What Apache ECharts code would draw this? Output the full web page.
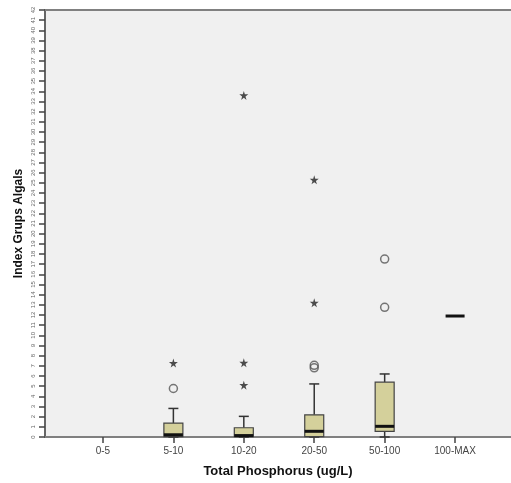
<!DOCTYPE html>
<html>
<head>
<meta charset="utf-8">
<script src="https://cdn.jsdelivr.net/npm/echarts@6/dist/echarts.min.js"></script>
<style>
html,body{margin:0;padding:0;background:#fff;}
#chart{width:511px;height:483px;}
</style>
</head>
<body>
<div id="chart"></div>
<script>
// ---- data ----
const categories = ['0-5', '5-10', '10-20', '20-50', '50-100', '100-MAX'];
const boxMin    = [null, 0,    0,    0,    0,    11.9];
const boxQ1     = [null, 0.03, 0.03, 0.03, 0.55, 11.9];
const boxMedian = [null, 0.22, 0.14, 0.56, 1.05, 11.9];
const boxQ3     = [null, 1.37, 0.91, 2.18, 5.39, 11.9];
const boxMax    = [null, 2.81, 2.03, 5.22, 6.2,  11.9];
// outliers: [category index, value]
const circleOutliers  = [[1, 4.77], [3, 7.05], [3, 6.8], [4, 17.5], [4, 12.76]];
const extremeOutliers = [[1, 7.27], [2, 7.3], [2, 5.1], [2, 33.6], [3, 25.3], [3, 13.2]];
const yTicks = { min: 0, max: 42, interval: 1 };

const boxData = [];
categories.forEach((c, i) => {
  if (boxMin[i] !== null) boxData.push([i, boxMin[i], boxQ1[i], boxMedian[i], boxQ3[i], boxMax[i]]);
});

const starPath = 'path://M50,0 L61,35 L98,35 L68,57 L79,91 L50,70 L21,91 L32,57 L2,35 L39,35 Z';
const FONT = '"Liberation Sans", Arial, sans-serif';

const chart = echarts.init(document.getElementById('chart'), null, { renderer: 'canvas' });
chart.setOption({
  backgroundColor: '#ffffff',
  animation: false,
  grid: {
    left: 45, right: 0, top: 10, bottom: 45,
    show: true, backgroundColor: '#f0f0f0', borderWidth: 0
  },
  xAxis: [{
    type: 'value',
    min: -0.823, max: 5.794,
    name: 'Total Phosphorus (ug/L)',
    nameLocation: 'middle',
    nameGap: 28,
    nameTextStyle: { fontFamily: FONT, fontSize: 13, fontWeight: 'bold', color: '#111' },
    axisLine: { show: true, onZero: false, lineStyle: { color: '#808080', width: 2 } },
    axisTick: { show: true, length: 6, customValues: [0, 1, 2, 3, 4, 5], lineStyle: { color: '#444', width: 1.5 } },
    axisLabel: {
      customValues: [0, 1, 2, 3, 4, 5],
      formatter: v => categories[Math.round(v)],
      margin: 9, fontFamily: FONT, fontSize: 10, color: '#444'
    },
    splitLine: { show: false }
  }, {
    type: 'value', position: 'top', min: 0, max: 1,
    axisLine: { show: true, onZero: false, lineStyle: { color: '#808080', width: 2 } },
    axisTick: { show: false }, axisLabel: { show: false }, splitLine: { show: false }
  }],
  yAxis: {
    type: 'value',
    min: yTicks.min, max: yTicks.max, interval: yTicks.interval,
    name: 'Index Grups Algals',
    nameLocation: 'middle',
    nameGap: 20,
    nameMoveOverlap: false,
    nameTextStyle: { fontFamily: FONT, fontSize: 12, fontWeight: 'bold', color: '#111' },
    axisLine: { show: true, onZero: false, lineStyle: { color: '#666', width: 2 } },
    axisTick: { show: true, length: 6, lineStyle: { color: '#444', width: 1.5 } },
    axisLabel: { rotate: 90, fontFamily: FONT, fontSize: 6, color: '#666', margin: 9 },
    splitLine: { show: false }
  },
  series: [{
    type: 'custom',
    clip: false,
    encode: { x: 0, y: [1, 2, 3, 4, 5] },
    data: boxData,
    renderItem: function (params, api) {
      const i = api.value(0);
      const vMin = api.value(1), q1 = api.value(2), med = api.value(3), q3 = api.value(4), vMax = api.value(5);
      const c = v => api.coord([i, v]);
      const half = 9.5, cap = 5;
      const x = c(med)[0];
      const children = [];
      const wStyle = { stroke: '#333', lineWidth: 1.5 };
      if (vMax > q3) {
        children.push({ type: 'line', shape: { x1: x, y1: c(q3)[1], x2: x, y2: c(vMax)[1] }, style: wStyle });
        children.push({ type: 'line', shape: { x1: x - cap, y1: c(vMax)[1], x2: x + cap, y2: c(vMax)[1] }, style: wStyle });
      }
      if (vMin < q1) {
        children.push({ type: 'line', shape: { x1: x, y1: c(q1)[1], x2: x, y2: c(vMin)[1] }, style: wStyle });
        children.push({ type: 'line', shape: { x1: x - cap, y1: c(vMin)[1], x2: x + cap, y2: c(vMin)[1] }, style: wStyle });
      }
      if (q3 > q1) {
        const yTop = c(q3)[1], yBot = c(q1)[1];
        children.push({
          type: 'rect',
          shape: { x: x - half, y: yTop, width: half * 2, height: yBot - yTop },
          style: { fill: '#d4d09b', stroke: '#444', lineWidth: 1.2 }
        });
      }
      children.push({
        type: 'line',
        shape: { x1: x - half, y1: c(med)[1], x2: x + half, y2: c(med)[1] },
        style: { stroke: '#111', lineWidth: 3 }
      });
      return { type: 'group', children: children };
    },
    z: 2
  }, {
    type: 'scatter',
    data: circleOutliers,
    symbol: 'circle',
    symbolSize: 8,
    itemStyle: { color: 'rgba(0,0,0,0)', borderColor: '#555', borderWidth: 1.5 },
    z: 3
  }, {
    type: 'scatter',
    data: extremeOutliers,
    symbol: starPath,
    symbolSize: 9,
    itemStyle: { color: '#222' },
    z: 3
  }]
});
</script>
</body>
</html>
